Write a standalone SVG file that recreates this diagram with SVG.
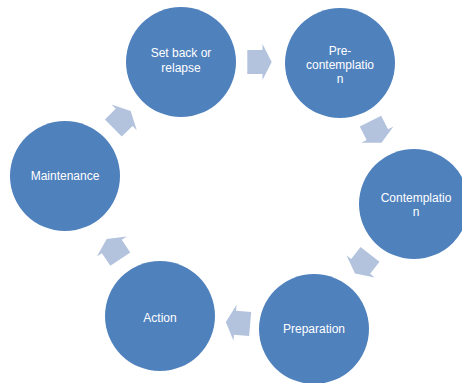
<svg xmlns="http://www.w3.org/2000/svg" width="462" height="383" viewBox="0 0 462 383">
  <style>
    .stage { fill: #4f81bd; }
    .label { font-family: "Liberation Sans", "Open Sans", sans-serif; font-size: 12px; fill: #ffffff; text-anchor: middle; }
    .flow { fill: #b3c3de; }
  </style>
  <defs>
    <!-- block arrow centred on the origin, pointing along +x -->
    <path id="blockArrow" d="M-12.2,-12 L3,-12 L3,-18 L12.2,0 L3,18 L3,12 L-12.2,12 Z"/>
  </defs>
  <rect width="462" height="383" fill="#ffffff"/>

  <g id="connectors">
    <use href="#blockArrow" class="flow" transform="translate(259.5,62)"/>
    <use href="#blockArrow" class="flow" transform="translate(376,132) rotate(63)"/>
    <use href="#blockArrow" class="flow" transform="translate(362.5,264) rotate(128)"/>
    <use href="#blockArrow" class="flow" transform="translate(238,323) rotate(185)"/>
    <use href="#blockArrow" class="flow" transform="translate(113.5,249) rotate(236)"/>
    <use href="#blockArrow" class="flow" transform="translate(122,119.5) rotate(-44.5)"/>
  </g>

  <g id="setback">
    <circle class="stage" cx="181" cy="62" r="55"/>
    <text class="label" x="181" y="57">Set back or</text>
    <text class="label" x="181" y="71.5">relapse</text>
  </g>

  <g id="precontemplation">
    <circle class="stage" cx="340" cy="63" r="55"/>
    <text class="label" x="340" y="55">Pre-</text>
    <text class="label" x="340" y="69">contemplatio</text>
    <text class="label" x="340" y="83">n</text>
  </g>

  <g id="contemplation">
    <circle class="stage" cx="414" cy="204" r="55"/>
    <text class="label" x="416" y="201.5">Contemplatio</text>
    <text class="label" x="416" y="215.5">n</text>
  </g>

  <g id="preparation">
    <circle class="stage" cx="314" cy="329" r="55"/>
    <text class="label" x="314" y="333">Preparation</text>
  </g>

  <g id="action">
    <circle class="stage" cx="160" cy="316" r="55"/>
    <text class="label" x="160" y="321.5">Action</text>
  </g>

  <g id="maintenance">
    <circle class="stage" cx="65" cy="176" r="55"/>
    <text class="label" x="65" y="180">Maintenance</text>
  </g>
</svg>
